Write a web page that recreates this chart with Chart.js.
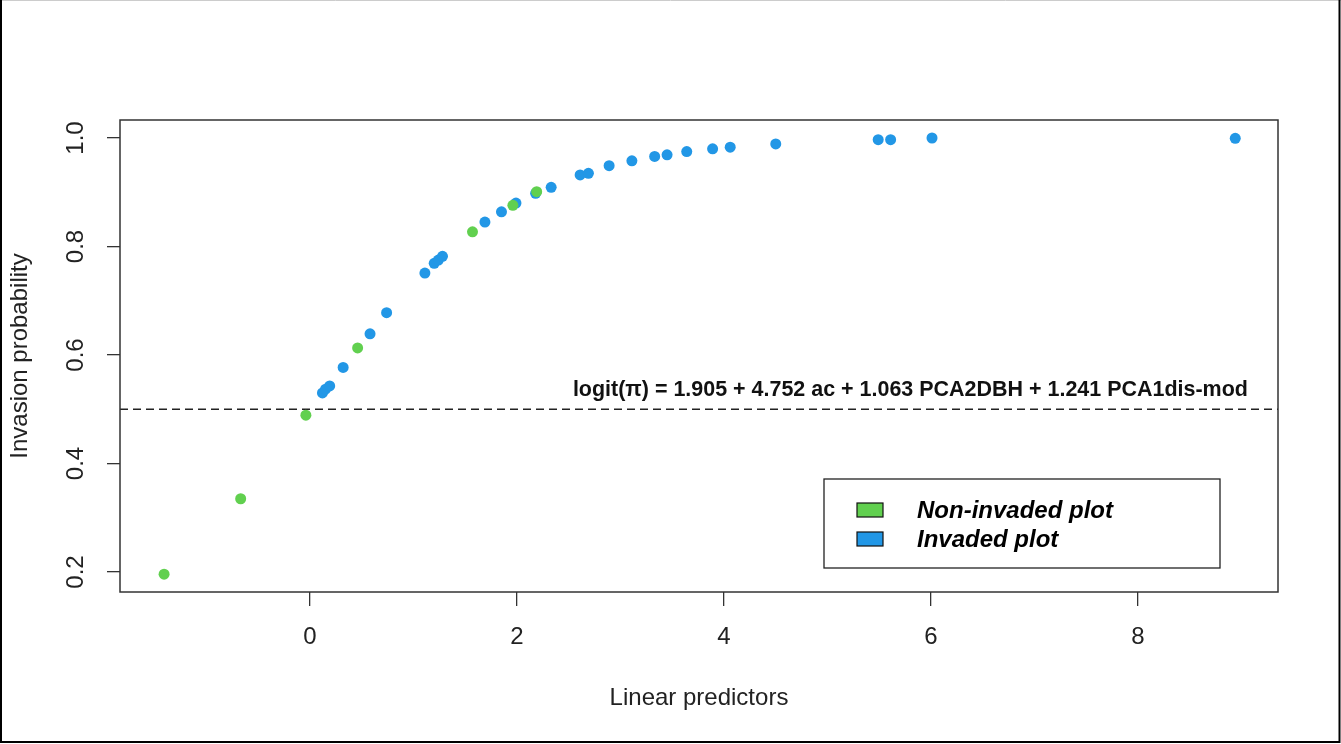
<!DOCTYPE html>
<html>
<head>
<meta charset="utf-8">
<script src="https://cdn.jsdelivr.net/npm/chart.js@4/dist/chart.umd.min.js"></script>
<style>
  html, body { margin: 0; padding: 0; background: #fff; }
  #wrap { width: 1341px; height: 744px; }
</style>
</head>
<body>
<div id="wrap"><canvas id="chart" width="1341" height="744"></canvas></div>
<script>
// values
const nonInvadedX = [-1.41, -0.67, -0.04, 0.46, 1.57, 1.96, 2.19];
const nonInvadedY = [0.196, 0.335, 0.489, 0.613, 0.827, 0.876, 0.901];

const invadedX = [0.12, 0.15, 0.19, 0.32, 0.58, 0.74, 1.11, 1.20, 1.24, 1.28, 1.69, 1.85, 1.99,
  2.18, 2.33, 2.61, 2.69, 2.89, 3.11, 3.33, 3.45, 3.64, 3.89, 4.06, 4.50, 5.49, 5.61, 6.01, 8.94];
const invadedY = [0.530, 0.537, 0.543, 0.577, 0.639, 0.678, 0.751, 0.769, 0.775, 0.782, 0.845, 0.864, 0.880,
  0.898, 0.909, 0.932, 0.935, 0.949, 0.958, 0.966, 0.969, 0.975, 0.980, 0.983, 0.989, 0.997, 0.997, 1.000, 0.9995];

const xTicks = [0, 2, 4, 6, 8];
const yTicks = [0.2, 0.4, 0.6, 0.8, 1.0];
const xRange = [-1.836, 9.353];
const yRange = [0.1631, 1.0332];
const cutoff = 0.5;

const equationText = 'logit(\u03c0) = 1.905 + 4.752 ac + 1.063 PCA2DBH + 1.241 PCA1dis-mod';
const equationAt = { x: 2.54, y: 0.536 };

const GREEN = '#61D04F';
const BLUE = '#2297E6';
const FONT = '"Liberation Sans", Arial, sans-serif';

const toPoints = (xs, ys) => xs.map((x, i) => ({ x, y: ys[i] }));

// frame, box, equation, y tick labels, legend
const extras = {
  id: 'extras',
  afterDraw(chart) {
    const { ctx, chartArea: a, scales } = chart;
    const x = scales.x, y = scales.y;
    ctx.save();

    // box round the plot
    ctx.strokeStyle = '#333';
    ctx.lineWidth = 1.5;
    ctx.strokeRect(a.left, a.top, a.right - a.left, a.bottom - a.top);

    // y tick labels, rotated like R
    ctx.fillStyle = '#222';
    ctx.font = '24px ' + FONT;
    ctx.textAlign = 'center';
    ctx.textBaseline = 'middle';
    yTicks.forEach(v => {
      ctx.save();
      ctx.translate(76, y.getPixelForValue(v));
      ctx.rotate(-Math.PI / 2);
      ctx.fillText(v.toFixed(1), 0, 0);
      ctx.restore();
    });

    // model equation
    ctx.fillStyle = '#111';
    ctx.font = 'bold 22px ' + FONT;
    ctx.textAlign = 'left';
    const w = ctx.measureText(equationText).width;
    ctx.save();
    ctx.translate(x.getPixelForValue(equationAt.x), y.getPixelForValue(equationAt.y));
    ctx.scale(675 / w, 1);
    ctx.fillText(equationText, 0, 0);
    ctx.restore();

    // legend
    const lx = a.left + 704, ly = a.top + 359;
    ctx.strokeStyle = '#222';
    ctx.lineWidth = 1.3;
    ctx.strokeRect(lx, ly, 396, 89);
    ctx.font = 'italic bold 24px ' + FONT;
    ctx.textBaseline = 'middle';
    chart.data.datasets.slice(0, 2).forEach((ds, i) => {
      const rowY = ly + 32 + i * 29;
      ctx.fillStyle = ds.backgroundColor;
      ctx.fillRect(lx + 33, rowY - 8, 26, 14);
      ctx.strokeStyle = '#111';
      ctx.lineWidth = 1.2;
      ctx.strokeRect(lx + 33, rowY - 8, 26, 14);
      ctx.fillStyle = '#000';
      ctx.fillText(ds.label, lx + 93, rowY);
    });

    // outer frame of the picture
    ctx.strokeStyle = '#ccc';
    ctx.lineWidth = 1;
    ctx.beginPath(); ctx.moveTo(0, 0.5); ctx.lineTo(1341, 0.5); ctx.stroke();
    ctx.strokeStyle = '#000';
    ctx.lineWidth = 2;
    ctx.beginPath();
    ctx.moveTo(1, 0); ctx.lineTo(1, 742); ctx.lineTo(1339.5, 742); ctx.lineTo(1339.5, 0);
    ctx.stroke();

    ctx.restore();
  }
};

new Chart(document.getElementById('chart'), {
  type: 'scatter',
  data: {
    datasets: [
      {
        label: 'Non-invaded plot',
        data: toPoints(nonInvadedX, nonInvadedY),
        backgroundColor: GREEN,
        borderWidth: 0,
        pointRadius: 5.5
      },
      {
        label: 'Invaded plot',
        data: toPoints(invadedX, invadedY),
        backgroundColor: BLUE,
        borderWidth: 0,
        pointRadius: 5.5
      },
      {
        type: 'line',
        label: 'cutoff',
        data: [{ x: xRange[0], y: cutoff }, { x: xRange[1], y: cutoff }],
        borderColor: '#222',
        borderWidth: 1.4,
        borderDash: [8, 5],
        pointRadius: 0,
        fill: false
      }
    ]
  },
  options: {
    responsive: false,
    animation: false,
    layout: { padding: { top: 120, right: 63, left: 0, bottom: 0 } },
    plugins: {
      legend: { display: false },
      tooltip: { enabled: false }
    },
    scales: {
      x: {
        type: 'linear',
        min: xRange[0],
        max: xRange[1],
        afterBuildTicks: s => { s.ticks = xTicks.map(v => ({ value: v })); },
        afterFit: s => { s.height = 152; },
        grid: { drawOnChartArea: false, drawTicks: true, tickLength: 14, color: '#333', lineWidth: 1.3 },
        border: { display: false },
        ticks: { color: '#222', font: { family: FONT, size: 24 }, padding: 17, maxRotation: 0 },
        title: {
          display: true,
          text: 'Linear predictors',
          color: '#222',
          font: { family: FONT, size: 24 },
          padding: { top: 0, bottom: 31 }
        }
      },
      y: {
        type: 'linear',
        min: yRange[0],
        max: yRange[1],
        afterBuildTicks: s => { s.ticks = yTicks.map(v => ({ value: v })); },
        afterFit: s => { s.width = 120; },
        grid: { drawOnChartArea: false, drawTicks: true, tickLength: 13, color: '#333', lineWidth: 1.3 },
        border: { display: false },
        ticks: { display: false },
        title: {
          display: true,
          text: 'Invasion probability',
          color: '#222',
          font: { family: FONT, size: 24 },
          padding: { top: 6, bottom: 0 }
        }
      }
    }
  },
  plugins: [extras]
});
</script>
</body>
</html>
